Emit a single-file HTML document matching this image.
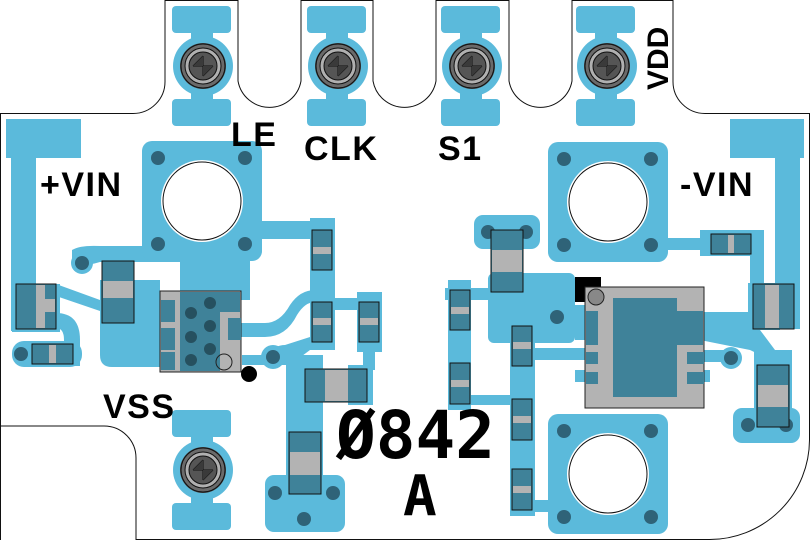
<!DOCTYPE html>
<html><head><meta charset="utf-8"><style>
html,body{margin:0;padding:0;background:#fff}
svg{display:block}
text{font-family:"Liberation Sans","DejaVu Sans",sans-serif;font-weight:bold;fill:#000}
</style></head><body>
<svg width="810" height="540" viewBox="0 0 810 540" xmlns="http://www.w3.org/2000/svg">
<defs>
<g id="pin">
  <rect x="-31" y="-60" width="59" height="27" rx="4" fill="#5bbadb"/>
  <rect x="-31" y="33" width="59" height="27" rx="4" fill="#5bbadb"/>
  <rect x="-12" y="-36" width="22" height="72" fill="#5bbadb"/>
  <circle cx="0" cy="0" r="30" fill="#5bbadb"/>
  <circle cx="0" cy="0" r="23" fill="#444" />
  <circle cx="0" cy="0" r="22" fill="#6a6a6a" stroke="#111" stroke-width="1"/>
  <circle cx="0" cy="0" r="18" fill="#b0b0b0" stroke="#111" stroke-width="1"/>
  <circle cx="0" cy="0" r="14" fill="#555" stroke="#111" stroke-width="1"/>
  <path d="M-10 0H10M0-10V10M-10 0L0-10M0 10L10 0" stroke="#111" stroke-width="1" fill="none"/>
  <path d="M-10 0L0 -10V0Z M0 10L10 0H0Z" fill="#3a3a3a"/>
</g>
<g id="mount">
  <rect x="-60" y="-60" width="120" height="120" rx="10" fill="#5bbadb"/>
  <circle cx="0" cy="0" r="41" fill="#fff"/>
  <circle cx="0" cy="0" r="39" fill="#fff" stroke="#111" stroke-width="1"/>
  <circle cx="-44" cy="-43" r="7" fill="#2f6378"/>
  <circle cx="43" cy="-43" r="7" fill="#2f6378"/>
  <circle cx="-44" cy="43" r="7" fill="#2f6378"/>
  <circle cx="43" cy="43" r="7" fill="#2f6378"/>
</g>
</defs>
<path d="M0.5 540 V113.5 H133 A32 32 0 0 0 165 81 V0.5 H238 V81 A32 32 0 0 0 301 81 V0.5 H373 V81 A32 32 0 0 0 436 81 V0.5 H509 V81 A32 32 0 0 0 572 81 V0.5 H673 V81 A32 32 0 0 0 705 113.5 H809.5 V440 A100 100 0 0 1 709 539.5 H136 V458 A32 32 0 0 0 104 426 H0.5" fill="none" stroke="#111" stroke-width="1"/>

<g fill="#5bbadb">
<rect x="6" y="119" width="75" height="39"/>
<rect x="11" y="119" width="25" height="212"/>
<rect x="12" y="284" width="48" height="48"/>
<path d="M56 284 L100 300 L100 311 L56 296Z"/>
<path d="M56 313 Q80 313 80 340 V366 H64 V340 Q64 328 56 328Z"/>
<rect x="12" y="341" width="70" height="26" rx="12"/>
<path d="M72 250 Q80 245 100 246 H250 V262 H100 Q80 268 72 262Z"/>
<circle cx="82" cy="263" r="11"/>
<rect x="100" y="280" width="60" height="18"/>
<rect x="100" y="296" width="60" height="50" />
<path d="M100 296 V355 Q100 367 112 367 H160 V345 H140 V330 H100Z"/>
<rect x="180" y="240" width="70" height="60"/>
<rect x="142" y="143" width="120" height="117" rx="10"/>
<rect x="260" y="221" width="75" height="18"/>
<rect x="310" y="218" width="25" height="55"/>
<rect x="155" y="322" width="10" height="28"/>
<path d="M240 323 H265 Q280 323 290 305 Q300 290 315 290 V302 Q305 302 297 315 Q286 337 265 337 H240Z"/>
<rect x="310" y="270" width="25" height="80"/>
<rect x="335" y="298" width="25" height="12"/>
<rect x="357" y="292" width="25" height="60"/>
<rect x="363" y="350" width="12" height="20"/>
<rect x="348" y="365" width="25" height="40"/>
<path d="M242 355 H265 Q275 345 285 345 L310 337 V350 L290 365 H242Z"/>
<circle cx="273" cy="357" r="12"/>
<rect x="286" y="355" width="37" height="125"/>
<rect x="265" y="475" width="80" height="57" rx="9"/>
<rect x="474" y="215" width="66" height="34" rx="9"/>
<rect x="488" y="273" width="87" height="70" rx="6"/>
<rect x="445" y="288" width="43" height="12"/>
<rect x="448" y="280" width="23" height="130"/>
<rect x="510" y="326" width="25" height="190"/>
<rect x="535" y="348" width="55" height="12"/>
<rect x="535" y="305" width="50" height="12"/>
<rect x="575" y="310" width="20" height="30"/>
<rect x="450" y="395" width="60" height="10"/>
<rect x="532" y="500" width="20" height="12"/>
<rect x="575" y="370" width="20" height="12"/>
<rect x="665" y="238" width="60" height="12"/>
<rect x="700" y="230" width="60" height="26"/>
<rect x="750" y="230" width="14" height="60"/>
<rect x="730" y="119" width="74" height="39"/>
<rect x="775" y="119" width="25" height="210"/>
<rect x="748" y="283" width="52" height="46"/>
<rect x="700" y="312" width="80" height="18"/>
<path d="M760 330 L775 350 L792 350 V370 L750 350 L700 340 V330Z"/>
<rect x="754" y="350" width="38" height="85"/>
<rect x="733" y="408" width="67" height="35" rx="9"/>
<rect x="680" y="350" width="50" height="12"/>
<circle cx="731" cy="358" r="11"/>
<rect x="680" y="370" width="30" height="12"/>
</g>

<use href="#mount" x="202" y="201"/>
<use href="#mount" x="608" y="202"/>
<use href="#mount" x="608" y="474"/>

<use href="#pin" x="203" y="66"/>
<use href="#pin" x="338" y="66"/>
<use href="#pin" x="472" y="66"/>
<use href="#pin" x="607" y="66"/>
<use href="#pin" x="203" y="470"/>

<rect x="160" y="291" width="81" height="81" fill="#b3b3b3" stroke="#222" stroke-width="1"/>
<rect x="180" y="292" width="40" height="79" fill="#3f8299"/>
<rect x="220" y="292" width="20" height="20" fill="#3f8299"/>
<rect x="161" y="300" width="14" height="22" fill="#3f8299"/>
<rect x="161" y="328" width="14" height="22" fill="#3f8299"/>
<rect x="161" y="352" width="14" height="18" fill="#3f8299"/>
<rect x="228" y="318" width="13" height="22" fill="#3f8299"/>
<g fill="#26505f">
<circle cx="210" cy="303" r="6"/><circle cx="191" cy="313" r="6"/><circle cx="210" cy="326" r="6"/>
<circle cx="191" cy="337" r="6"/><circle cx="210" cy="349" r="6"/><circle cx="191" cy="360" r="6"/>
</g>
<circle cx="224" cy="362" r="8" fill="none" stroke="#222" stroke-width="1"/>
<circle cx="249" cy="374" r="8" fill="#000"/>

<g fill="#2f6378">
<circle cx="82" cy="263" r="7"/><circle cx="21" cy="354" r="7"/><circle cx="273" cy="357" r="7"/>
<circle cx="275" cy="493" r="7"/><circle cx="333" cy="493" r="7"/><circle cx="304" cy="519" r="7"/>
<circle cx="488" cy="232" r="7"/><circle cx="526" cy="232" r="7"/><circle cx="557" cy="317" r="7"/>
<circle cx="731" cy="358" r="7"/><circle cx="748" cy="425" r="7"/><circle cx="786" cy="425" r="7"/>
</g>

<g stroke="#111" stroke-width="1">
<rect x="16" y="284" width="40" height="45" fill="#3f8299"/>
<rect x="32" y="344" width="41" height="20" fill="#3f8299"/>
<rect x="102" y="261" width="32" height="62" fill="#3f8299"/>
<rect x="312" y="230" width="20" height="40" fill="#3f8299"/>
<rect x="312" y="302" width="20" height="40" fill="#3f8299"/>
<rect x="359" y="302" width="20" height="40" fill="#3f8299"/>
<rect x="305" y="369" width="62" height="33" fill="#3f8299"/>
<rect x="289" y="432" width="32" height="62" fill="#3f8299"/>
<rect x="491" y="230" width="32" height="62" fill="#3f8299"/>
<rect x="450" y="290" width="20" height="40" fill="#3f8299"/>
<rect x="450" y="363" width="20" height="41" fill="#3f8299"/>
<rect x="512" y="326" width="20" height="40" fill="#3f8299"/>
<rect x="512" y="399" width="20" height="41" fill="#3f8299"/>
<rect x="512" y="469" width="20" height="41" fill="#3f8299"/>
<rect x="711" y="234" width="40" height="20" fill="#3f8299"/>
<rect x="753" y="284" width="41" height="45" fill="#3f8299"/>
<rect x="757" y="365" width="32" height="62" fill="#3f8299"/>
</g>
<g fill="#b3b3b3">
<rect x="36" y="285" width="9" height="43"/><rect x="45" y="299" width="10" height="13"/>
<rect x="49" y="345" width="7" height="18"/>
<rect x="103" y="281" width="30" height="17"/>
<rect x="313" y="247" width="18" height="7"/>
<rect x="313" y="318" width="18" height="7"/>
<rect x="360" y="318" width="18" height="7"/>
<rect x="325" y="370" width="23" height="31"/>
<rect x="290" y="452" width="30" height="23"/>
<rect x="492" y="250" width="30" height="22"/>
<rect x="451" y="307" width="18" height="7"/>
<rect x="451" y="380" width="18" height="7"/>
<rect x="513" y="342" width="18" height="7"/>
<rect x="513" y="416" width="18" height="7"/>
<rect x="513" y="486" width="18" height="7"/>
<rect x="728" y="235" width="6" height="18"/>
<rect x="765" y="285" width="14" height="43"/>
<rect x="758" y="385" width="30" height="22"/>
</g>

<rect x="575" y="277" width="26" height="25" fill="#000"/>
<rect x="585" y="287" width="119" height="121" fill="#b3b3b3" stroke="#222" stroke-width="1"/>
<rect x="613" y="298" width="64" height="99" fill="#3f8299"/>
<rect x="677" y="311" width="26" height="34" fill="#3f8299"/>
<rect x="586" y="311" width="12" height="34" fill="#3f8299"/>
<rect x="586" y="352" width="12" height="12" fill="#3f8299"/>
<rect x="586" y="372" width="12" height="12" fill="#3f8299"/>
<rect x="687" y="352" width="17" height="12" fill="#3f8299"/>
<rect x="687" y="372" width="17" height="12" fill="#3f8299"/>
<circle cx="596" cy="297" r="8" fill="#888" stroke="#222" stroke-width="1"/>

<g font-size="34" letter-spacing="1.5">
<text x="40" y="196">+VIN</text>
<text x="231" y="146">LE</text>
<text x="304" y="160">CLK</text>
<text x="438" y="160">S1</text>
<text x="680" y="196">-VIN</text>
<text x="103" y="418">VSS</text>
<text transform="translate(668,90) rotate(-90)" font-size="30" letter-spacing="0">VDD</text>
</g>
<text x="336" y="458" font-size="66" style="font-family:'DejaVu Sans Mono','Liberation Mono',monospace">Ø842</text>
<text x="403" y="515" font-size="56" style="font-family:'DejaVu Sans Mono','Liberation Mono',monospace">A</text>
</svg>
</body></html>
